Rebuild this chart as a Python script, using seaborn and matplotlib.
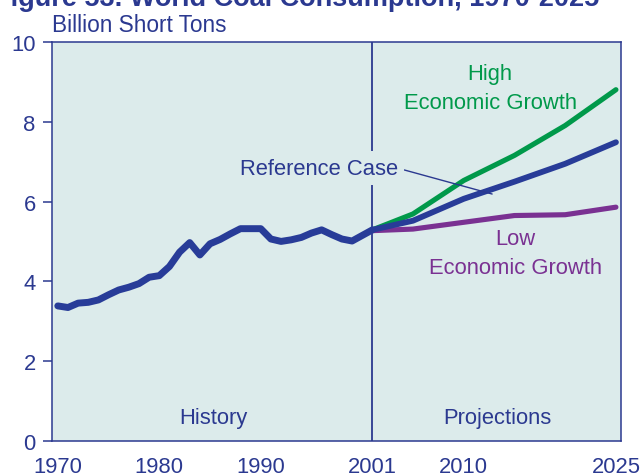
import matplotlib
matplotlib.use("Agg")
import matplotlib.pyplot as plt
import seaborn as sns
import pandas as pd

# Historical world coal consumption (billion short tons)
years_hist = list(range(1970, 2002))
coal_hist = [3.38, 3.34, 3.45, 3.47, 3.53, 3.66, 3.78, 3.85, 3.94, 4.10,
             4.14, 4.37, 4.73, 4.97, 4.66, 4.94, 5.05, 5.19, 5.32, 5.32,
             5.32, 5.06, 5.00, 5.04, 5.10, 5.21, 5.29, 5.17, 5.06, 5.01,
             5.15, 5.29]

# Projection cases
years_proj = [2001, 2005, 2010, 2015, 2020, 2025]
ref_proj = [5.29, 5.52, 6.07, 6.50, 6.95, 7.49]
high_proj = [5.29, 5.69, 6.53, 7.16, 7.91, 8.81]
low_proj = [5.27, 5.31, 5.48, 5.65, 5.67, 5.86]

x_ticks = [1970, 1980, 1990, 2001, 2010, 2025]
y_ticks = [0, 2, 4, 6, 8, 10]

NAVY = "#2B3990"
LINE_BLUE = "#283C98"
GREEN = "#00994A"
PURPLE = "#7A3192"
BG = "#DCEBEB"
FS = 15.8

sns.set_style("white")
plt.rcParams["font.family"] = ["Liberation Sans", "DejaVu Sans"]

fig = plt.figure(figsize=(6.42, 4.77), dpi=100)
ax = fig.add_axes([0.0815, 0.0744, 0.9673 - 0.0815, 0.9092 - 0.0744])
ax.set_facecolor(BG)

proj = pd.DataFrame({
    "year": years_proj * 3,
    "value": high_proj + low_proj + ref_proj,
    "case": ["High"] * len(years_proj) + ["Low"] * len(years_proj)
            + ["Reference"] * len(years_proj),
})
hist = pd.DataFrame({"year": years_hist, "value": coal_hist})

# Divider between history and projections
ax.axvline(2001, color=NAVY, lw=1.3, zorder=1)

sns.lineplot(data=proj[proj.case == "High"], x="year", y="value",
             color=GREEN, lw=3.7, ax=ax, zorder=3)
sns.lineplot(data=proj[proj.case == "Low"], x="year", y="value",
             color=PURPLE, lw=3.7, ax=ax, zorder=3)
sns.lineplot(data=proj[proj.case == "Reference"], x="year", y="value",
             color=LINE_BLUE, lw=4.2, ax=ax, zorder=4)
sns.lineplot(data=hist, x="year", y="value", color=LINE_BLUE, lw=5.0,
             ax=ax, zorder=4)

ax.set_xlim(1969.46, 2025.5)
ax.set_ylim(0, 10)
ax.set_xticks(x_ticks)
ax.set_yticks(y_ticks)
ax.set_xticklabels([str(t) for t in x_ticks])
ax.set_yticklabels([str(t) for t in y_ticks])
ax.set_xlabel("")
ax.set_ylabel("")

for s in ax.spines.values():
    s.set_color(NAVY)
    s.set_linewidth(1.1)
ax.tick_params(axis="y", direction="out", length=6.5, width=1.1,
               color=NAVY, labelcolor=NAVY, labelsize=FS, pad=5.5, left=True)
ax.tick_params(axis="x", length=0, labelcolor=NAVY, labelsize=FS, pad=11)

# Text labels
ax.text(1985.35, 0.58, "History", color=NAVY, fontsize=FS,
        ha="center", va="center")
ax.text(2013.3, 0.58, "Projections", color=NAVY, fontsize=FS,
        ha="center", va="center")
ax.text(2012.6, 9.21, "High", color=GREEN, fontsize=FS,
        ha="center", va="center")
ax.text(2012.6, 8.50, "Economic Growth", color=GREEN, fontsize=FS,
        ha="center", va="center")
ax.text(2015.1, 5.08, "Low", color=PURPLE, fontsize=FS,
        ha="center", va="center")
ax.text(2015.1, 4.34, "Economic Growth", color=PURPLE, fontsize=FS,
        ha="center", va="center")

ax.annotate("Reference Case", xy=(2012.8, 6.19), xytext=(1995.7, 6.84),
            color=NAVY, fontsize=FS, ha="center", va="center", zorder=6,
            bbox=dict(boxstyle="square,pad=0.3", fc=BG, ec="none"),
            arrowprops=dict(arrowstyle="-", color=NAVY, lw=1.0,
                            shrinkA=0, shrinkB=0, relpos=(1.0, 0.5)))

fig.text(52 / 642, 1 - 25 / 477, "Billion Short Tons", color=NAVY,
         fontsize=16.3, ha="left", va="center")
fig.text(-6 / 642, 1 - 6 / 477, "Figure 53. World Coal Consumption, 1970-2025",
         color=NAVY, fontsize=19.5, fontweight="bold", ha="left",
         va="baseline")

fig.savefig("out.png", dpi=100)
